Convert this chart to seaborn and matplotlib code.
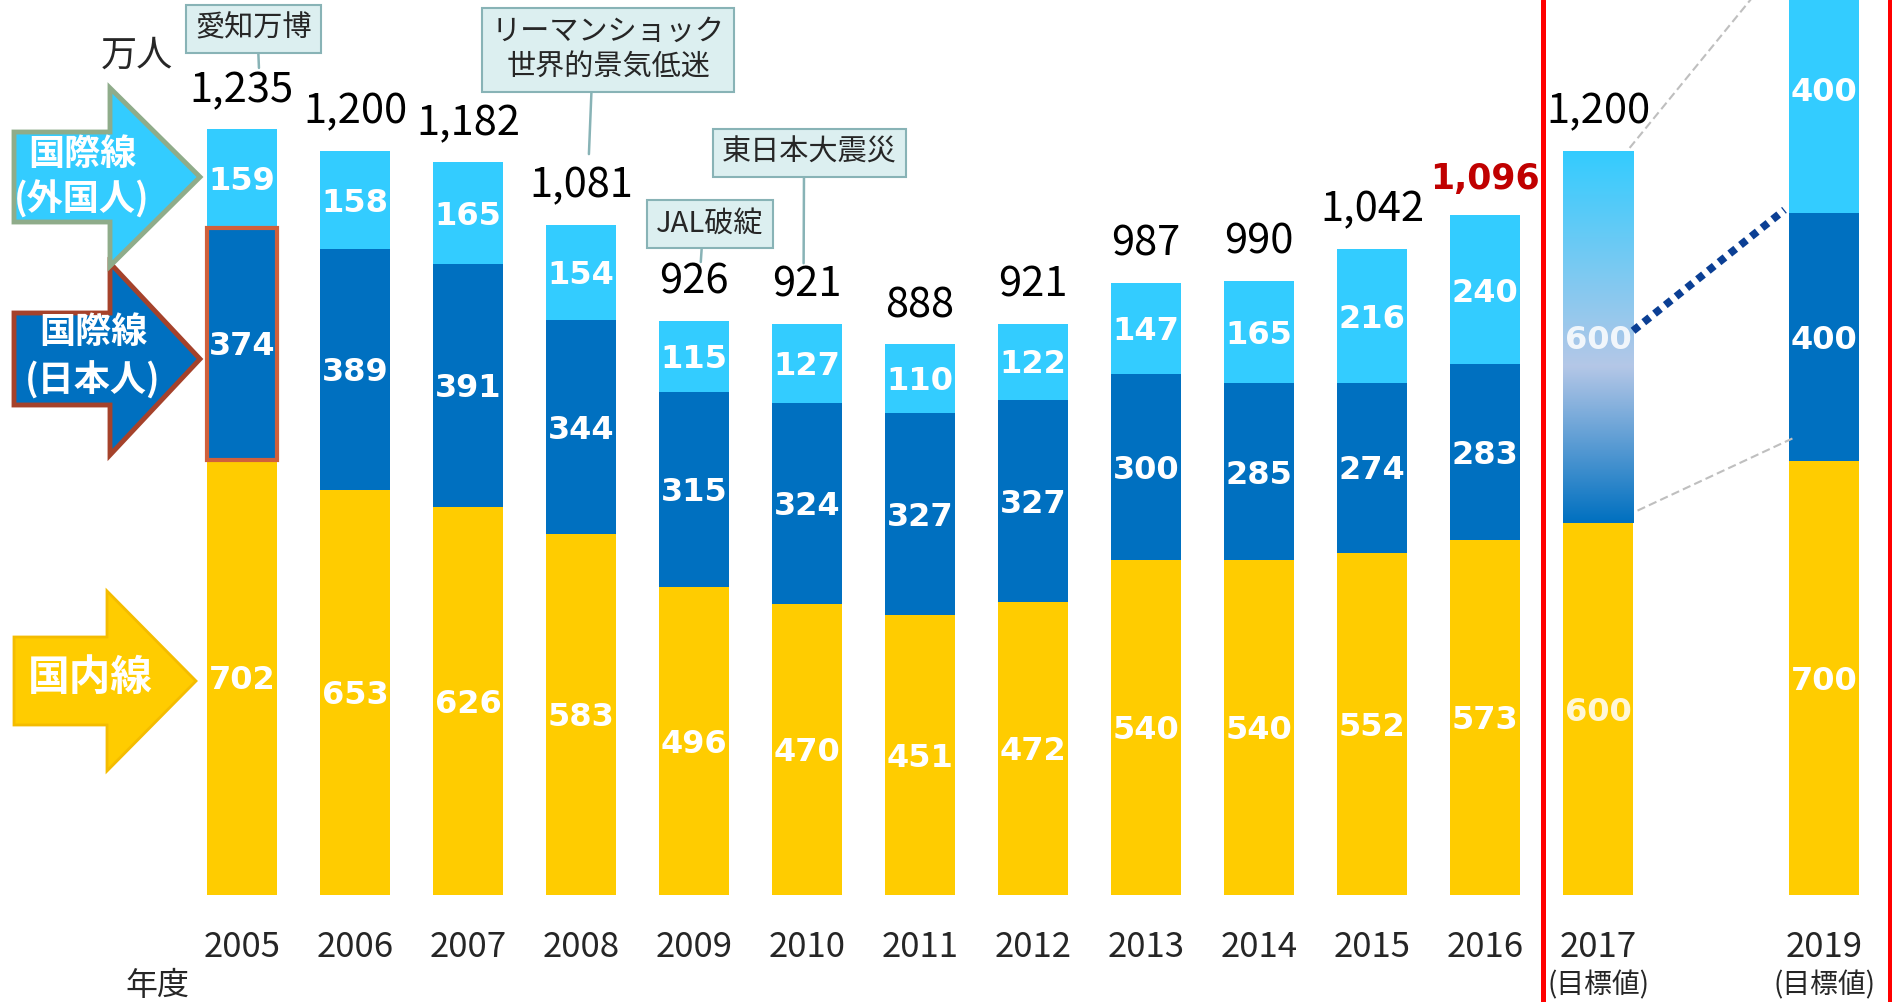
import numpy as np
import pandas as pd
import matplotlib
matplotlib.use("Agg")
import matplotlib.pyplot as plt
import matplotlib.transforms as mtransforms
from matplotlib.patches import Polygon
from matplotlib.colors import LinearSegmentedColormap
import seaborn as sns

# passengers, 10,000 people (万人)
years = [2005, 2006, 2007, 2008, 2009, 2010, 2011, 2012, 2013, 2014, 2015, 2016, 2017, 2019]
domestic = [702, 653, 626, 583, 496, 470, 451, 472, 540, 540, 552, 573, 600, 700]
# the 2017 target only gives one international figure (600), kept in intl_foreign
intl_japanese = [374, 389, 391, 344, 315, 324, 327, 327, 300, 285, 274, 283, 0, 400]
intl_foreign = [159, 158, 165, 154, 115, 127, 110, 122, 147, 165, 216, 240, 600, 400]
target_years = [2017, 2019]
latest_year = 2016

events = ["愛知万博", "リーマンショック\n世界的景気低迷", "東日本大震災", "JAL破綻"]

YELLOW = "#FFCC00"
DARK = "#0070C0"
LIGHT = "#33CCFF"

W, H = 1892, 1002
PX_PER_UNIT = 0.62
BASE_PX = 895

sns.set_style("white")
plt.rcParams["font.family"] = ["Noto Sans CJK JP", "DejaVu Sans"]

fig = plt.figure(figsize=(W / 100, H / 100), dpi=100)
ax = fig.add_axes([0, 0, 1, 1])

df = pd.DataFrame({"year": years, "domestic": domestic,
                   "intl_jp": intl_japanese, "intl_foreign": intl_foreign})
df["base_jp"] = df["domestic"]
df["base_fg"] = df["domestic"] + df["intl_jp"]
df["total"] = df["base_fg"] + df["intl_foreign"]

bar_kw = dict(x="year", native_scale=True, width=0.62, saturation=1,
              errorbar=None, linewidth=0, ax=ax)
sns.barplot(data=df, y="domestic", color=YELLOW, **bar_kw)
sns.barplot(data=df, y="intl_jp", color=DARK, bottom=df["base_jp"].to_numpy(), **bar_kw)
sns.barplot(data=df, y="intl_foreign", color=LIGHT, bottom=df["base_fg"].to_numpy(), **bar_kw)

i17 = years.index(2017)
# outline on the 2005 japanese segment
p05 = ax.containers[1][0]
p05.set_edgecolor("#D0603C")
p05.set_linewidth(3)
p05.set_zorder(4)

# gradient for the 2017 international target
p17 = ax.containers[2][i17]
p17.set_facecolor("none")
cmap = LinearSegmentedColormap.from_list(
    "grad", [(0, "#0070C0"), (0.42, "#B4C7E7"), (1, "#33CCFF")])
grad = np.linspace(0, 1, 256).reshape(-1, 1)
im = ax.imshow(grad, cmap=cmap, origin="lower", aspect="auto", zorder=2,
               extent=[p17.get_x(), p17.get_x() + p17.get_width(),
                       p17.get_y(), p17.get_y() + p17.get_height()])
im.set_clip_path(p17)

# segment labels
SEG_FS = 23
cap = 0.73 * SEG_FS * 100 / 72 / PX_PER_UNIT / 2
for i, yr in enumerate(years):
    for val, base in [(domestic[i], 0), (intl_japanese[i], df["base_jp"][i]),
                      (intl_foreign[i], df["base_fg"][i])]:
        if val == 0:
            continue
        ax.text(yr, base + val / 2 - cap, f"{val}", ha="center", va="baseline",
                color="white", fontsize=SEG_FS, fontweight="bold", family="DejaVu Sans",
                alpha=0.85 if yr == 2017 else 1, zorder=6)

# totals
top = BASE_PX / PX_PER_UNIT
for yr, tot in zip(years, df["total"]):
    if tot + 45 > top:
        continue
    if yr == latest_year:
        ax.text(yr, tot + 42, f"{tot:,}", ha="center", va="baseline", fontsize=25,
                fontweight="bold", color="#C00000", family="DejaVu Sans")
    else:
        ax.text(yr, tot + 44, f"{tot:,}", ha="center", va="baseline", fontsize=30,
                color="black")

# year labels
for yr in years:
    ax.text(yr, -100, str(yr), ha="center", va="baseline", fontsize=25)
for yr in target_years:
    ax.text(yr, -158, "(目標値)", ha="center", va="baseline", fontsize=20)
ax.text(2004.25, -161, "年度", ha="center", va="baseline", fontsize=23)
ax.text(2004.07, 1337, "万人", ha="center", va="baseline", fontsize=26)

# event call-outs: (box centre, line end, line start on box)
layout = [((2005.10, 1397), (2005.15, 1334), 0.54),
          ((2008.24, 1363), (2008.07, 1195), 0.43),
          ((2010.02, 1197), (2009.97, 1019), 0.47),
          ((2009.14, 1082), (2009.06, 1021), 0.43)]
for txt, (box, end, rx) in zip(events, layout):
    ax.annotate(txt, xy=end, xytext=box, ha="center", va="center", fontsize=21,
                linespacing=1.25, zorder=7,
                bbox=dict(boxstyle="square,pad=0.32", fc="#DCEFF0", ec="#88B3B6", lw=1.5),
                arrowprops=dict(arrowstyle="-", color="#88B3B6", lw=1.8,
                                relpos=(rx, 0), shrinkA=0, shrinkB=0))

# guide lines between the 2017 and 2019 targets
i19 = years.index(2019)
r17 = p17.get_x() + p17.get_width()
l19 = ax.containers[0][i19].get_x()
tot = df["total"]
ax.plot([r17 - 0.03, l19], [tot[i17] + 5, tot[i19] + 20], color="#BFBFBF",
        lw=1.5, ls=(0, (4, 2)), zorder=3)
ax.plot([r17 + 0.04, l19 + 0.05], [domestic[i17] + 20, domestic[i19] + 38],
        color="#BFBFBF", lw=1.5, ls=(0, (4, 2)), zorder=3)
ax.plot([r17, l19 - 0.04], [df["base_fg"][i17] + intl_foreign[i17] / 2 + 10,
                            df["base_fg"][i19] + 5],
        color="#0B3F94", lw=5.5, ls=(0, (1, 0.8)), solid_capstyle="butt", zorder=3)

# red separators
for xv in [2016.51, 2019.58]:
    ax.axvline(xv, color="#FF0000", lw=3.6, zorder=8)

ax.set_xlim(2005 - 242 / 113, 2005 + (W - 242) / 113)
ax.set_ylim(-(H - BASE_PX) / PX_PER_UNIT, BASE_PX / PX_PER_UNIT)
ax.axis("off")

# block arrows on the left, drawn in pixel coordinates
px = mtransforms.Affine2D().scale(1 / W, -1 / H).translate(0, 1) + fig.transFigure


def block_arrow(left, neck, tip, yc, body, head, face, edge, lw, z):
    pts = [(left, yc - body), (neck, yc - body), (neck, yc - head), (tip, yc),
           (neck, yc + head), (neck, yc + body), (left, yc + body)]
    ax.add_patch(Polygon(pts, closed=True, transform=px, facecolor=face,
                         edgecolor=edge, linewidth=lw, joinstyle="miter",
                         clip_on=False, zorder=z))


block_arrow(14, 110, 200, 359, 46, 96, DARK, "#A5422B", 3.5, 9)
block_arrow(14, 110, 200, 177, 45, 89, LIGHT, "#8FAC8A", 3.5, 10)
block_arrow(14, 107, 196, 681, 44, 90, YELLOW, "#F4BC00", 2, 9)

lab = dict(transform=px, color="white", fontweight="bold", ha="center",
           va="center", zorder=11)
ax.text(82, 154, "国際線", fontsize=26, **lab)
ax.text(82, 199, "(外国人)", fontsize=26, **lab)
ax.text(93, 333, "国際線", fontsize=26, **lab)
ax.text(93, 380, "(日本人)", fontsize=26, **lab)
ax.text(90, 678, "国内線", fontsize=30, **lab)

plt.savefig("out.png", dpi=100)
